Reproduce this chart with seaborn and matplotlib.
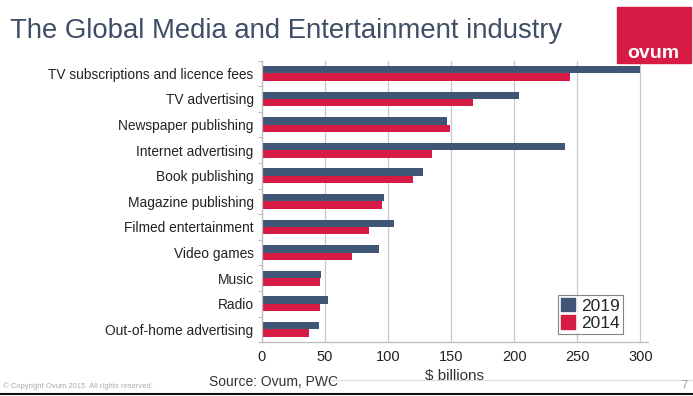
import matplotlib.pyplot as plt
import matplotlib.patches as mpatches
from matplotlib.lines import Line2D
import seaborn as sns
import pandas as pd
import numpy as np

# --- data ($ billions) ---
categories = [
    "TV subscriptions and licence fees",
    "TV advertising",
    "Newspaper publishing",
    "Internet advertising",
    "Book publishing",
    "Magazine publishing",
    "Filmed entertainment",
    "Video games",
    "Music",
    "Radio",
    "Out-of-home advertising",
]
values_2019 = [300, 204, 147, 240, 128, 97, 105, 93, 47, 52, 45]
values_2014 = [244, 167, 149, 135, 120, 95, 85, 71, 46, 46, 37]
years = ["2019", "2014"]
x_ticks = [0, 50, 100, 150, 200, 250, 300]

NAVY = "#3f5676"
CRIMSON = "#d61c45"
TITLE_COLOR = "#3e4e66"

df = pd.DataFrame({
    "category": categories * 2,
    "year": [years[0]] * len(categories) + [years[1]] * len(categories),
    "value": values_2019 + values_2014,
})

sns.set_theme(style="white")
plt.rcParams["font.family"] = ["Liberation Sans", "DejaVu Sans"]

fig = plt.figure(figsize=(6.93, 3.96), dpi=100)
ax = fig.add_axes([0.378, 0.136, 0.557, 0.711])

sns.barplot(data=df, y="category", x="value", hue="year", hue_order=years,
            order=categories, palette=[NAVY, CRIMSON], width=0.58,
            saturation=1, orient="h", ax=ax, legend=False, linewidth=0)

ax.set_xlim(0, 306)
ax.set_xticks(x_ticks)
ax.set_xticklabels([str(t) for t in x_ticks], fontsize=10.5, color="#222222")
ax.tick_params(axis="x", length=0, pad=6)
ax.tick_params(axis="y", length=0, pad=6, labelsize=9.9, labelcolor="#222222")
ax.set_ylabel("")
ax.set_xlabel("$ billions", fontsize=11, color="#333333", labelpad=3)

# category separators on the left spine
ax.set_yticks(np.arange(-0.5, len(categories), 1.0), minor=True)
ax.tick_params(axis="y", which="minor", length=3, color="#bbbbbb", width=0.8, left=True)

ax.grid(axis="x", color="#c8c8c8", linewidth=0.9)
ax.set_axisbelow(True)
for side in ["top", "right"]:
    ax.spines[side].set_visible(False)
for side in ["left", "bottom"]:
    ax.spines[side].set_color("#bbbbbb")
    ax.spines[side].set_linewidth(0.9)

handles = [mpatches.Patch(color=NAVY, label=years[0]),
           mpatches.Patch(color=CRIMSON, label=years[1])]
leg = ax.legend(handles=handles, loc="lower right", bbox_to_anchor=(0.935, 0.03),
                fontsize=12.5, frameon=True, fancybox=False, handlelength=0.8,
                handleheight=0.8, handletextpad=0.4, borderpad=0.15,
                labelspacing=0.1, borderaxespad=0)
leg.get_frame().set_edgecolor("#666666")
leg.get_frame().set_linewidth(0.8)

# slide decorations
fig.text(0.014, 0.922, "The Global Media and Entertainment industry",
         fontsize=19.8, color=TITLE_COLOR, va="center", ha="left")
fig.patches.append(mpatches.Rectangle((0.890, 0.841), 0.107, 0.141,
                                      transform=fig.transFigure,
                                      color="#d61c45", zorder=5))
fig.text(0.943, 0.865, "ovum", fontsize=14, color="white", ha="center",
         va="center", fontweight="bold", zorder=6)
fig.text(0.302, 0.035, "Source: Ovum, PWC", fontsize=10, color="#333333",
         ha="left", va="center")
fig.text(0.004, 0.025, "\u00a9 Copyright Ovum 2015. All rights reserved.",
         fontsize=5.5, color="#aaaaaa", ha="left", va="center")
fig.text(0.992, 0.027, "7", fontsize=8, color="#999999", ha="right", va="center")
fig.lines.append(Line2D([0.47, 1.0], [0.041, 0.041], transform=fig.transFigure,
                        color="#dddddd", linewidth=0.8))
fig.lines.append(Line2D([0.0, 1.0], [0.004, 0.004], transform=fig.transFigure,
                        color="#111111", linewidth=1.5))

fig.savefig("out.png", dpi=100)
